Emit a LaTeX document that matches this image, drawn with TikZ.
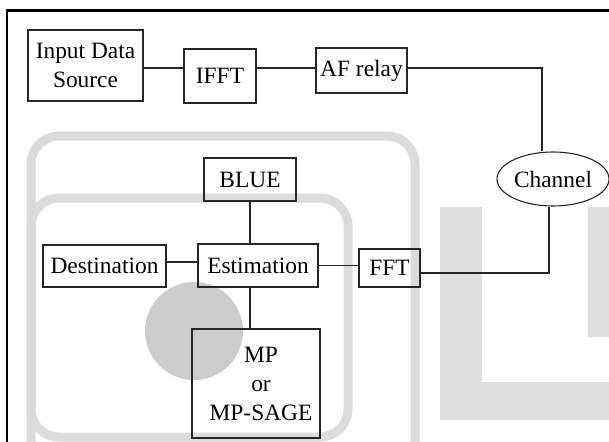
\documentclass[tikz,border=0pt]{standalone}
\usepackage{fontspec}
\setmainfont{Liberation Serif}
\usetikzlibrary{arrows,backgrounds,calc,shapes.geometric}

\begin{document}
\begin{tikzpicture}[x=1pt,y=-1pt,
  block/.style={draw=black!85,line width=1.1pt,inner sep=0pt,align=center,
    font=\fontsize{23.4}{29}\selectfont},
  wmark/.style={draw=black!14,line width=9pt,rounded corners=28pt},
  wfill/.style={fill=black!13}]
\useasboundingbox (0,0) rectangle (609,441);
% faint logo behind the blocks
\draw[wmark] (31,470) -- (31,136) -- (415,136) -- (415,470);
\draw[wmark] (31,437) rectangle (348,198);
\fill[black!20] (194,331) circle (49pt);
\fill[wfill] (440,207) rectangle (482,420) (440,382) rectangle (609,420)
  (588,207) rectangle (609,337);
% outer frame
\draw[line width=2.5pt] (7,10.5) rectangle (625,460);

% blocks
\node[block,minimum width=115,minimum height=71] (src) at (85.5,65.5) {Input Data\\Source};
\node[block,minimum width=72,minimum height=54] (ifft) at (220,76) {IFFT};
\node[block,minimum width=91,minimum height=45] (af) at (361.5,70.5) {AF relay};
\node[block,ellipse,minimum width=112,minimum height=54] (chan) at (553,179) {Channel};
\node[block,minimum width=92,minimum height=43] (blue) at (250,179.5) {BLUE};
\node[block,minimum width=123,minimum height=42] (dest) at (104.5,266) {Destination};
\node[block,minimum width=120,minimum height=43] (est) at (258,265.5) {Estimation};
\node[block,minimum width=61,minimum height=38] (fft) at (389.5,268) {FFT};
\node[block,minimum width=128,minimum height=109] (mp) at (256,383.5) {\hspace{10pt}MP\\\hspace{10pt}or\\\hspace{10pt}MP-SAGE};

% links
\draw[line width=1.1pt,black!85] ([yshift=-2.5pt]src.east) -- ([yshift=-2.5pt]src.east -| ifft.west);
\draw[line width=1.1pt,black!85] ([yshift=-2.5pt]src.east -| ifft.east) -- ([yshift=-2.5pt]src.east -| af.west);
\draw[line width=1.1pt,black!85] ([yshift=-2.5pt]src.east -| af.east) -| ([xshift=-11pt]chan.north);
\draw[line width=1.1pt,black!85] ([xshift=-4pt]chan.south) |- ([yshift=-5pt]fft.east);
\draw[line width=1.1pt,black!85] (est.east) -- (est.east -| fft.west);
\draw[line width=1.1pt,black!85] ([yshift=4pt]dest.east) -- ([yshift=4pt]dest.east -| est.west);
\draw[line width=1.1pt,black!85] (blue.south) -- (blue.south |- est.north);
\draw[line width=1.1pt,black!85] (blue.south |- est.south) -- (blue.south |- mp.north);
\end{tikzpicture}
\end{document}
